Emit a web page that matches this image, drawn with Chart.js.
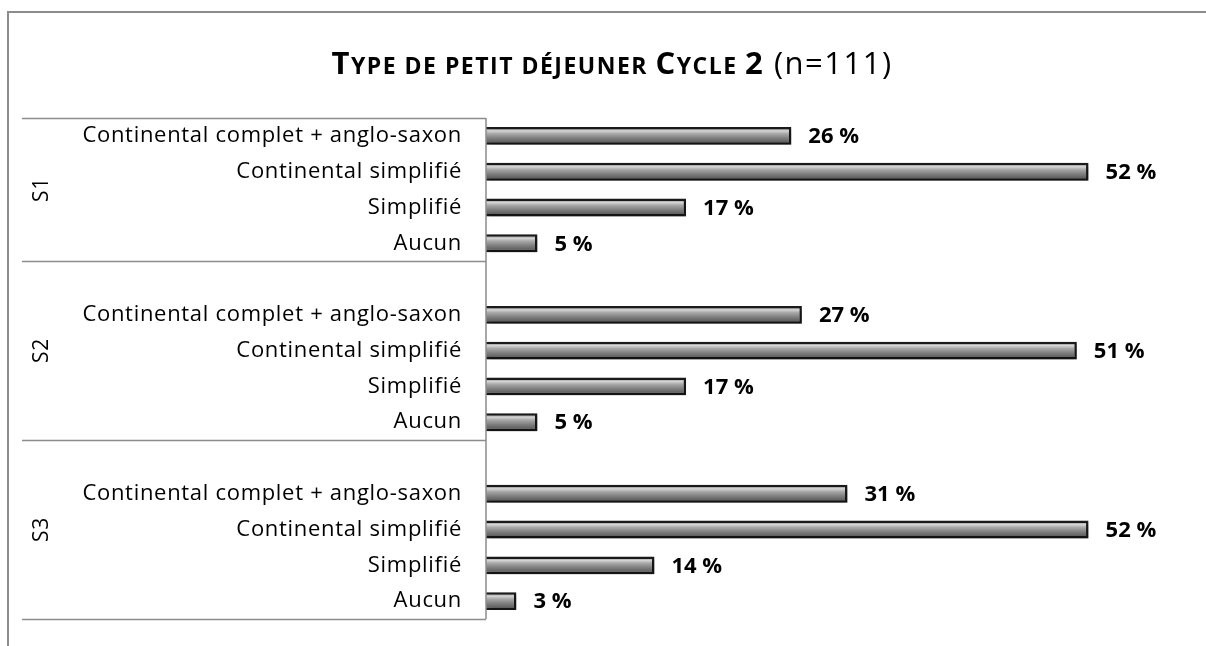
<!DOCTYPE html>
<html>
<head>
<meta charset="utf-8">
<title>Type de petit déjeuner Cycle 2</title>
<script src="https://cdn.jsdelivr.net/npm/chart.js@4/dist/chart.umd.min.js"></script>
<style>
	html, body { margin: 0; padding: 0; background: #ffffff; }
	#wrap { width: 1206px; height: 646px; position: relative; }
</style>
</head>
<body>
<div id="wrap"><canvas id="myChart" width="1206" height="646"></canvas></div>
<script>
'use strict';

const groups = ['S1', 'S2', 'S3'];
const subCategories = [
	'Continental complet + anglo-saxon',
	'Continental simplifié',
	'Simplifié',
	'Aucun',
];
// bar lengths (percent)
const s1Values = [26.1, 51.5, 17.1, 4.4];
const s2Values = [27.0, 50.5, 17.1, 4.4];
const s3Values = [30.9, 51.5, 14.4, 2.6];
// labels as printed next to the bars
const s1Labels = ['26 %', '52 %', '17 %', '5 %'];
const s2Labels = ['27 %', '51 %', '17 %', '5 %'];
const s3Labels = ['31 %', '52 %', '14 %', '3 %'];

const FONT = '"Open Sans", "Noto Sans", sans-serif';
const SPACING = '0.7px';

generateGraph();

function generateGraph() {
	const rows = buildRows();
	displayGraph(rows);
}

function buildRows() {
	// Excel-style multi level axis: an empty slot opens each group after the first
	const labels = [];
	const values = [];
	const texts = [];
	const groupRanges = [];
	const perGroup = [
		[s1Values, s1Labels],
		[s2Values, s2Labels],
		[s3Values, s3Labels],
	];
	perGroup.forEach(([vals, txts], g) => {
		const start = labels.length;
		if (g > 0) {
			labels.push('');
			values.push(null);
			texts.push('');
		}
		subCategories.forEach((name, i) => {
			labels.push(name);
			values.push(vals[i]);
			texts.push(txts[i]);
		});
		groupRanges.push([start, labels.length - 1]);
	});
	return { labels, values, texts, groupRanges };
}

function barGradient(context) {
	const chart = context.chart;
	const yScale = chart.scales.y;
	if (!yScale || context.dataIndex === undefined) return '#8a8a8a';
	const y = yScale.getPixelForValue(context.dataIndex);
	if (!Number.isFinite(y)) return '#8a8a8a';
	const h = 18;
	const g = chart.ctx.createLinearGradient(0, y - h / 2, 0, y + h / 2);
	g.addColorStop(0, '#5a5a5a');
	g.addColorStop(0.22, '#d6d6d6');
	g.addColorStop(0.38, '#a8a8a8');
	g.addColorStop(0.62, '#808080');
	g.addColorStop(1, '#4a4a4a');
	return g;
}

function displayGraph({ labels, values, texts, groupRanges }) {
	const frame = {
		id: 'frame',
		beforeDraw(chart) {
			const ctx = chart.ctx;
			// wider text, closer to the original Calibri rendering
			ctx.letterSpacing = SPACING;
			ctx.save();
			ctx.strokeStyle = '#8c8c8c';
			ctx.lineWidth = 2;
			ctx.beginPath();
			ctx.moveTo(8, 646);
			ctx.lineTo(8, 12);
			ctx.lineTo(1206, 12);
			ctx.stroke();
			ctx.restore();
		},
	};

	const title = {
		id: 'smallCapsTitle',
		afterDraw(chart) {
			const ctx = chart.ctx;
			const main = 'Type de petit déjeuner Cycle 2';
			const tail = ' (n=111)';
			const big = 'bold 31px ' + FONT;
			const small = 'bold 23px ' + FONT;
			const parts = [];
			for (const ch of main) {
				const isUpper = ch !== ch.toLowerCase() || /[0-9]/.test(ch);
				parts.push({ text: ch.toUpperCase(), font: isUpper ? big : small });
			}
			parts.push({ text: tail, font: '31px ' + FONT });
			ctx.save();
			ctx.letterSpacing = '1.5px';
			let total = 0;
			parts.forEach((p) => {
				ctx.font = p.font;
				p.w = ctx.measureText(p.text).width;
				total += p.w;
			});
			ctx.fillStyle = '#000';
			ctx.textBaseline = 'alphabetic';
			let x = 612 - total / 2;
			parts.forEach((p) => {
				ctx.font = p.font;
				ctx.fillText(p.text, x, 74);
				x += p.w;
			});
			ctx.restore();
		},
	};

	const groupAxis = {
		id: 'groupAxis',
		afterDraw(chart) {
			const ctx = chart.ctx;
			const y = chart.scales.y;
			const left = chart.chartArea.left;
			const top = y.getPixelForValue(-0.5);
			const bottom = y.getPixelForValue(labels.length - 0.5);
			ctx.save();
			ctx.strokeStyle = '#8c8c8c';
			ctx.lineWidth = 1.5;
			ctx.beginPath();
			ctx.moveTo(left, top);
			ctx.lineTo(left, bottom);
			const bounds = [-0.5].concat(groupRanges.map((r) => r[1] + 0.5));
			bounds.forEach((b) => {
				const py = Math.round(y.getPixelForValue(b)) + 0.5;
				ctx.moveTo(22, py);
				ctx.lineTo(left, py);
			});
			ctx.stroke();

			ctx.fillStyle = '#000';
			ctx.font = '21px ' + FONT;
			ctx.textAlign = 'center';
			ctx.textBaseline = 'middle';
			groupRanges.forEach(([a, b], g) => {
				const cy = (y.getPixelForValue(a - 0.5) + y.getPixelForValue(b + 0.5)) / 2;
				ctx.save();
				ctx.translate(42, cy);
				ctx.rotate(-Math.PI / 2);
				ctx.fillText(groups[g], 0, 0);
				ctx.restore();
			});
			ctx.restore();
		},
	};

	const barShadow = {
		id: 'barShadow',
		beforeDatasetsDraw(chart) {
			const ctx = chart.ctx;
			ctx.save();
			ctx.shadowColor = 'rgba(0, 0, 0, 0.35)';
			ctx.shadowBlur = 5;
			ctx.shadowOffsetX = 2;
			ctx.shadowOffsetY = 3;
		},
		afterDatasetsDraw(chart) {
			chart.ctx.restore();
		},
	};

	const valueLabels = {
		id: 'valueLabels',
		afterDatasetsDraw(chart) {
			const ctx = chart.ctx;
			const meta = chart.getDatasetMeta(0);
			ctx.save();
			ctx.letterSpacing = '0px';
			ctx.fillStyle = '#000';
			ctx.font = 'bold 22px ' + FONT;
			ctx.textAlign = 'left';
			ctx.textBaseline = 'middle';
			meta.data.forEach((bar, i) => {
				if (values[i] === null) return;
				ctx.fillText(texts[i], bar.x + 17, bar.y + 1);
			});
			ctx.restore();
		},
	};

	const ctx = document.getElementById('myChart').getContext('2d');
	const myChart = new Chart(ctx, {
		type: 'bar',
		data: {
			labels: labels,
			datasets: [
				{
					data: values,
					backgroundColor: barGradient,
					borderColor: '#1a1a1a',
					borderWidth: 2.5,
					borderSkipped: 'start',
					barPercentage: 0.5,
					categoryPercentage: 1,
				},
			],
		},
		plugins: [frame, barShadow, valueLabels, groupAxis, title],
		options: {
			indexAxis: 'y',
			responsive: false,
			animation: false,
			layout: { padding: { top: 118, bottom: 27, left: 0, right: 18 } },
			plugins: {
				legend: { display: false },
				tooltip: { enabled: false },
				title: { display: false },
			},
			scales: {
				x: {
					display: false,
					min: 0,
					max: 60,
				},
				y: {
					grid: { display: false, drawTicks: false },
					border: { display: false },
					ticks: {
						color: '#000',
						padding: 24,
						autoSkip: false,
						font: { family: FONT, size: 22 },
					},
					afterFit(scale) {
						scale.width = 486;
						// tick padding must not eat into the plot height
						scale.paddingTop = 0;
						scale.paddingBottom = 0;
					},
				},
			},
		},
	});
}
</script>
</body>
</html>
